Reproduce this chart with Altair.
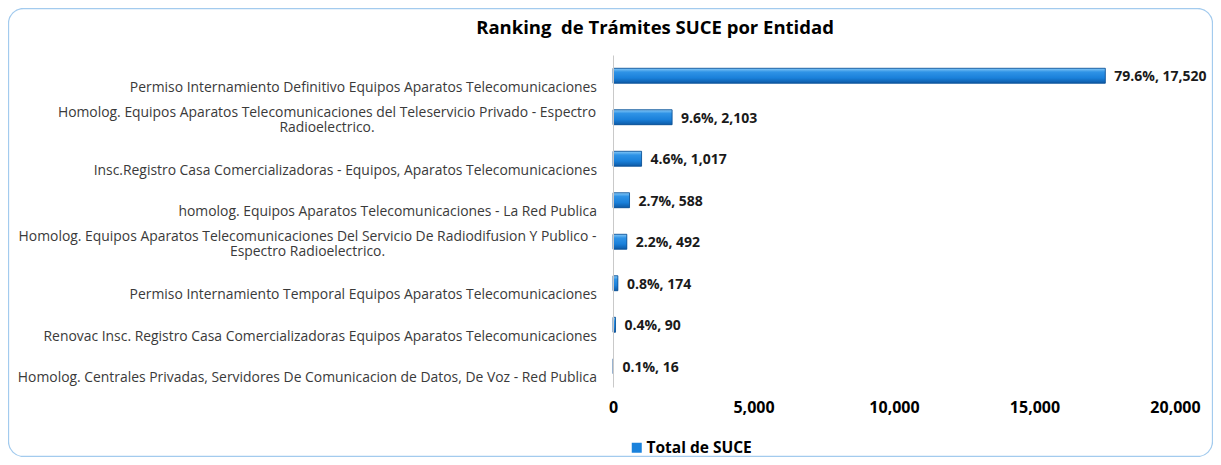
import altair as alt
import pandas as pd

# ---- data ----
label_line1 = [
    "Permiso Internamiento Definitivo Equipos Aparatos Telecomunicaciones",
    "Homolog. Equipos Aparatos Telecomunicaciones del Teleservicio Privado - Espectro",
    "Insc.Registro Casa Comercializadoras - Equipos, Aparatos Telecomunicaciones",
    "homolog. Equipos Aparatos Telecomunicaciones - La Red Publica",
    "Homolog. Equipos Aparatos Telecomunicaciones Del Servicio De Radiodifusion Y Publico -",
    "Permiso Internamiento Temporal  Equipos Aparatos  Telecomunicaciones",
    "Renovac Insc. Registro Casa Comercializadoras Equipos Aparatos Telecomunicaciones",
    "Homolog. Centrales Privadas, Servidores De Comunicacion de Datos, De Voz - Red Publica",
]
label_line2 = ["", "Radioelectrico.", "", "", "Espectro Radioelectrico.", "", "", ""]
values = [17520, 2103, 1017, 588, 492, 174, 90, 16]
percents = [79.6, 9.6, 4.6, 2.7, 2.2, 0.8, 0.4, 0.1]
x_ticks = [0, 5000, 10000, 15000, 20000]
series_name = "Total de SUCE"
title_text = "Ranking\u00a0 de Trámites SUCE por Entidad"

df = pd.DataFrame({
    "cat": label_line1,
    "line2": label_line2,
    "value": values,
    "pct": percents,
})
df["serie"] = series_name
df["lbl"] = [f"{p:.1f}%, {v:,}" for p, v in zip(percents, values)]

W, H = 562, 332
FONT = "Open Sans"

y_enc = alt.Y("cat:N", sort=label_line1,
              scale=alt.Scale(paddingInner=0.64, paddingOuter=0.32),
              axis=alt.Axis(labels=False, ticks=False, domain=True, domainColor="#c9c9c9",
                            grid=False, title=None, zindex=1))
x_enc = alt.X("value:Q", scale=alt.Scale(domain=[0, 20000], nice=False),
              axis=alt.Axis(values=x_ticks, format=",.0f", labelFont=FONT, labelFontWeight="bold",
                            labelFontSize=16, labelColor="#000000", domain=False, ticks=False,
                            grid=False, labelPadding=12, labelFlush=False, title=None, zindex=1))

base = alt.Chart(df)

border = alt.Chart(alt.Data(values=[{"a": 1}])).mark_rect(
    fill="white", fillOpacity=0, stroke="#a3cbee", strokeWidth=1.3, cornerRadius=15
).encode(x=alt.value(-604.5), x2=alt.value(W + 37.5), y=alt.value(-46.5), y2=alt.value(H + 69.5))

bars_legend = base.mark_bar().encode(
    x=x_enc, y=y_enc,
    color=alt.Color("serie:N", scale=alt.Scale(range=["#1a82dc"]),
                    legend=alt.Legend(orient="none", legendX=16, legendY=385, title=None,
                                      symbolType="square", symbolSize=100, symbolStrokeWidth=0,
                                      labelFont=FONT, labelFontSize=15.5, labelFontWeight="bold",
                                      labelColor="#000000", labelOffset=2, padding=0)),
)

grad = alt.Gradient(
    gradient="linear", x1=0, x2=0, y1=0, y2=1,
    stops=[alt.GradientStop(offset=0, color="#86c9f7"),
           alt.GradientStop(offset=0.25, color="#2f93e6"),
           alt.GradientStop(offset=0.65, color="#1a80da"),
           alt.GradientStop(offset=1, color="#0d5aa6")],
)
bars = base.mark_bar(fill=grad, stroke="#0f4f90", strokeWidth=0.8).encode(
    x=x_enc, y=y_enc)

value_labels = base.mark_text(align="left", baseline="middle", dx=9, dy=1.5,
                              font=FONT, fontSize=14, fontWeight="bold", color="#1a1a1a").encode(
    x=x_enc, y=y_enc, text="lbl:N")

lab_common = dict(baseline="middle", font=FONT, fontSize=13.9, color="#3a3a3a")
single = base.transform_filter("datum.line2 == ''").mark_text(
    align="right", dy=12, **lab_common).encode(x=alt.value(-16), y=y_enc, text="cat:N")

# two-line category labels: second line centred under the first, as in the reference
line2_centers = {1: -286, 4: -305.5}
double_labels = []
for idx, cx in line2_centers.items():
    double_labels.append(
        base.transform_filter(alt.datum.cat == label_line1[idx])
        .transform_calculate(lines="[datum.cat, datum.line2]")
        .mark_text(align="center", dy=-4.5, lineHeight=15, **lab_common)
        .encode(x=alt.value(cx), y=y_enc, text="lines:N")
    )

title = alt.Chart(alt.Data(values=[{"t": title_text}])).mark_text(
    align="center", baseline="middle", font=FONT, fontSize=18.5, fontWeight="bold", color="#000000"
).encode(x=alt.value(42), y=alt.value(-27), text="t:N")

chart = alt.layer(border, bars_legend, bars, value_labels, single, *double_labels, title).properties(
    width=W, height=H,
    autosize=alt.AutoSizeParams(type="none"),
    padding={"left": 605, "top": 47, "right": 38, "bottom": 70},
).configure_view(stroke=None)

chart.save("out.html", embed_options={"renderer": "svg", "actions": False})
